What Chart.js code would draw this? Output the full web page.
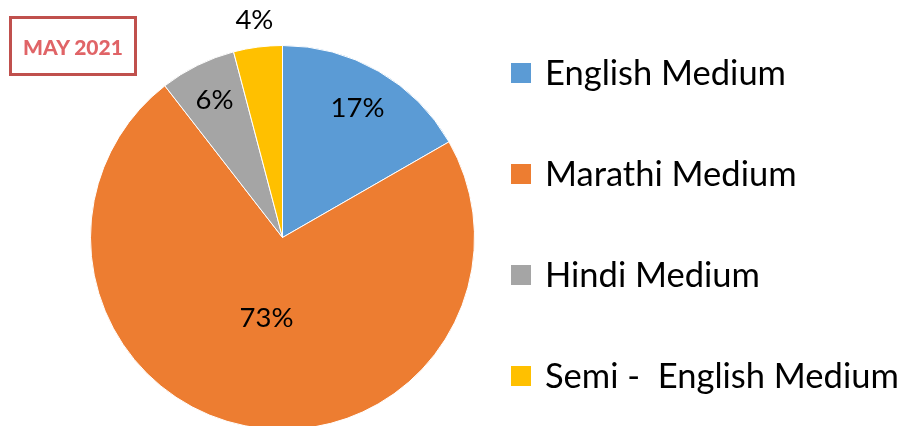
<!DOCTYPE html>
<html>
<head>
<meta charset="utf-8">
<script src="https://cdn.jsdelivr.net/npm/chart.js@4"></script>
<style>
  html, body { margin:0; padding:0; background:#fff; overflow:hidden; }
  #wrap { position:absolute; left:0; top:0; width:914px; height:432px; }
  #badge {
    position:absolute; left:9px; top:16px; width:122px; height:54px;
    border:3px solid #c0504d; box-sizing:content-box;
    font:900 21px Lato, sans-serif; color:#e06467;
    display:flex; align-items:center; justify-content:center;
  }
</style>
</head>
<body>
<div id="wrap"><canvas id="pie"></canvas></div>
<div id="badge">MAY 2021</div>
<script>
// medium of instruction share - May 2021
const categories = ['English Medium', 'Marathi Medium', 'Hindi Medium', 'Semi -  English Medium'];
const shares = [16.7, 72.8, 6.4, 4.1];
const colors = ['#5b9bd5', '#ed7d31', '#a5a5a5', '#ffc000'];

// label distance from centre, as a fraction of the radius (excel best fit)
const labelRadius = [0.78, 0.43, 0.80, 1.14];

// percent labels on the slices
const pctLabels = {
  id: 'pctLabels',
  afterDatasetsDraw(chart){
    const ctx = chart.ctx;
    const meta = chart.getDatasetMeta(0);
    const vals = chart.data.datasets[0].data;
    const total = vals.reduce((a,b)=>a+b, 0);
    ctx.save();
    ctx.font = '27.5px Lato, sans-serif';
    ctx.fillStyle = '#000';
    ctx.textAlign = 'center';
    ctx.textBaseline = 'middle';
    meta.data.forEach((arc, i)=>{
      const mid = (arc.startAngle + arc.endAngle) / 2;
      const r = arc.outerRadius * labelRadius[i];
      const x = arc.x + Math.cos(mid) * r;
      const y = arc.y + Math.sin(mid) * r;
      ctx.fillText(Math.round(vals[i] / total * 100) + '%', x, y);
    });
    ctx.restore();
  }
};

// legend at the right, one item per row
const sideLegend = {
  id: 'sideLegend',
  afterDraw(chart){
    const ctx = chart.ctx;
    const ds = chart.data.datasets[0];
    ctx.save();
    ctx.font = '34.5px Lato, sans-serif';
    ctx.textBaseline = 'middle';
    chart.data.labels.forEach((lab, i)=>{
      const cy = 73 + i * 101;
      ctx.fillStyle = ds.backgroundColor[i];
      ctx.fillRect(511, cy - 10, 20, 20);
      ctx.fillStyle = '#000';
      ctx.fillText(lab, 545, cy + 1);
    });
    ctx.restore();
  }
};

new Chart(document.getElementById('pie'), {
  type: 'pie',
  data: {
    labels: categories,
    datasets: [{
      data: shares,
      backgroundColor: colors,
      borderColor: '#fff',
      borderWidth: 1
    }]
  },
  options: {
    responsive: true,
    maintainAspectRatio: false,
    animation: false,
    layout: { padding: { left: 90, right: 439, top: 45, bottom: 2 } },
    plugins: {
      legend: { display: false },
      tooltip: { enabled: false }
    }
  },
  plugins: [pctLabels, sideLegend]
});
</script>
</body>
</html>
